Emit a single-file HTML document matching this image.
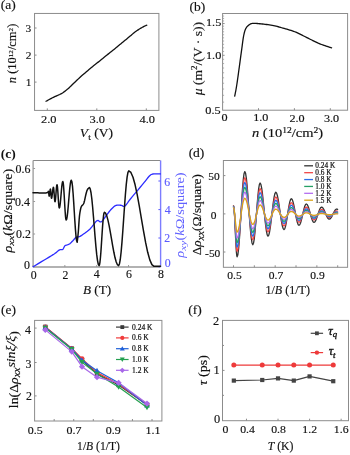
<!DOCTYPE html>
<html><head><meta charset="utf-8"><style>
html,body{margin:0;padding:0;background:#fff;}
body{width:350px;height:455px;overflow:hidden;}
svg{display:block;}
text{font-family:"Liberation Serif",serif;}
</style></head><body>
<svg width="350" height="455" viewBox="0 0 350 455">
<rect width="350" height="455" fill="#fff"/>
<rect class="g" x="34.55" y="13.45" width="124.35000000000001" height="96.95" fill="none" stroke="#8c8c8c" stroke-width="1"/>
<line class="g" x1="34.55" y1="82.1" x2="36.55" y2="82.1" stroke="#8c8c8c" stroke-width="1"/>
<line class="g" x1="34.55" y1="55.1" x2="36.55" y2="55.1" stroke="#8c8c8c" stroke-width="1"/>
<line class="g" x1="34.55" y1="28.0" x2="36.55" y2="28.0" stroke="#8c8c8c" stroke-width="1"/>
<line class="g" x1="47.3" y1="110.4" x2="47.3" y2="108.4" stroke="#8c8c8c" stroke-width="1"/>
<line class="g" x1="96.8" y1="110.4" x2="96.8" y2="108.4" stroke="#8c8c8c" stroke-width="1"/>
<line class="g" x1="146.3" y1="110.4" x2="146.3" y2="108.4" stroke="#8c8c8c" stroke-width="1"/>
<path class="g" d="M46.00,101.30 L46.57,100.99 L47.34,100.56 L48.25,100.05 L49.27,99.49 L50.34,98.91 L51.41,98.33 L52.45,97.78 L53.40,97.30 L54.31,96.86 L55.24,96.44 L56.18,96.03 L57.10,95.63 L57.99,95.25 L58.83,94.88 L59.61,94.53 L60.30,94.20 L60.88,93.90 L61.37,93.64 L61.78,93.41 L62.14,93.18 L62.49,92.95 L62.85,92.71 L63.24,92.43 L63.70,92.10 L64.21,91.73 L64.74,91.35 L65.29,90.94 L65.86,90.51 L66.44,90.06 L67.04,89.57 L67.66,89.05 L68.30,88.50 L68.95,87.91 L69.61,87.29 L70.28,86.64 L70.97,85.96 L71.69,85.25 L72.43,84.52 L73.20,83.77 L74.00,83.00 L74.83,82.22 L75.67,81.41 L76.54,80.59 L77.43,79.74 L78.36,78.87 L79.33,77.97 L80.34,77.05 L81.40,76.10 L82.54,75.10 L83.77,74.03 L85.06,72.93 L86.38,71.81 L87.70,70.69 L89.00,69.60 L90.24,68.56 L91.40,67.60 L92.48,66.71 L93.51,65.87 L94.49,65.08 L95.44,64.32 L96.37,63.58 L97.29,62.85 L98.19,62.13 L99.10,61.40 L99.99,60.68 L100.84,59.99 L101.67,59.31 L102.49,58.64 L103.32,57.97 L104.17,57.28 L105.06,56.56 L106.00,55.80 L107.01,54.99 L108.09,54.12 L109.21,53.22 L110.35,52.31 L111.48,51.41 L112.59,50.52 L113.63,49.68 L114.60,48.90 L115.47,48.20 L116.24,47.57 L116.96,46.98 L117.65,46.41 L118.34,45.85 L119.06,45.25 L119.83,44.61 L120.70,43.90 L121.68,43.10 L122.74,42.22 L123.87,41.29 L125.03,40.34 L126.18,39.39 L127.30,38.46 L128.35,37.59 L129.30,36.80 L130.16,36.08 L130.97,35.39 L131.72,34.74 L132.44,34.12 L133.11,33.55 L133.76,33.00 L134.39,32.48 L135.00,32.00 L135.59,31.56 L136.14,31.16 L136.67,30.79 L137.17,30.46 L137.65,30.15 L138.11,29.86 L138.56,29.58 L139.00,29.30 L139.42,29.03 L139.82,28.78 L140.20,28.55 L140.56,28.33 L140.92,28.12 L141.27,27.91 L141.63,27.71 L142.00,27.50 L142.38,27.28 L142.78,27.06 L143.18,26.85 L143.58,26.63 L143.96,26.43 L144.33,26.23 L144.68,26.06 L145.00,25.90 L145.29,25.76 L145.58,25.65 L145.84,25.54 L146.09,25.45 L146.31,25.37 L146.50,25.30 L146.67,25.25 L146.80,25.20" fill="none" stroke="#111" stroke-width="1.3" stroke-linejoin="round" stroke-linecap="round"/>
<rect class="g" x="222.6" y="13.5" width="125.00000000000003" height="96.7" fill="none" stroke="#8c8c8c" stroke-width="1"/>
<line class="g" x1="222.6" y1="102.13355866037853" x2="224.1" y2="102.13355866037853" stroke="#999" stroke-width="0.8"/>
<line class="g" x1="222.6" y1="95.31723176322498" x2="224.1" y2="95.31723176322498" stroke="#999" stroke-width="0.8"/>
<line class="g" x1="222.6" y1="89.04681885732246" x2="224.1" y2="89.04681885732246" stroke="#999" stroke-width="0.8"/>
<line class="g" x1="222.6" y1="83.24132328465586" x2="224.1" y2="83.24132328465586" stroke="#999" stroke-width="0.8"/>
<line class="g" x1="222.6" y1="77.83653621084122" x2="224.1" y2="77.83653621084122" stroke="#999" stroke-width="0.8"/>
<line class="g" x1="222.6" y1="72.78069555238378" x2="224.1" y2="72.78069555238378" stroke="#999" stroke-width="0.8"/>
<line class="g" x1="222.6" y1="68.03146327249033" x2="224.1" y2="68.03146327249033" stroke="#999" stroke-width="0.8"/>
<line class="g" x1="222.6" y1="63.55376797406621" x2="224.1" y2="63.55376797406621" stroke="#999" stroke-width="0.8"/>
<line class="g" x1="222.6" y1="59.318231572397075" x2="224.1" y2="59.318231572397075" stroke="#999" stroke-width="0.8"/>
<line class="g" x1="222.6" y1="51.477859495497086" x2="224.1" y2="51.477859495497086" stroke="#999" stroke-width="0.8"/>
<line class="g" x1="222.6" y1="47.83355866037853" x2="224.1" y2="47.83355866037853" stroke="#999" stroke-width="0.8"/>
<line class="g" x1="222.6" y1="44.351281338487965" x2="224.1" y2="44.351281338487965" stroke="#999" stroke-width="0.8"/>
<line class="g" x1="222.6" y1="41.01723176322498" x2="224.1" y2="41.01723176322498" stroke="#999" stroke-width="0.8"/>
<line class="g" x1="222.6" y1="37.81930444761622" x2="224.1" y2="37.81930444761622" stroke="#999" stroke-width="0.8"/>
<line class="g" x1="222.6" y1="34.74681885732247" x2="224.1" y2="34.74681885732247" stroke="#999" stroke-width="0.8"/>
<line class="g" x1="222.6" y1="31.790304184907427" x2="224.1" y2="31.790304184907427" stroke="#999" stroke-width="0.8"/>
<line class="g" x1="222.6" y1="28.941323284655862" x2="224.1" y2="28.941323284655862" stroke="#999" stroke-width="0.8"/>
<line class="g" x1="222.6" y1="26.1923275169566" x2="224.1" y2="26.1923275169566" stroke="#999" stroke-width="0.8"/>
<line class="g" x1="222.6" y1="20.96783589837645" x2="224.1" y2="20.96783589837645" stroke="#999" stroke-width="0.8"/>
<line class="g" x1="222.6" y1="18.480695552383764" x2="224.1" y2="18.480695552383764" stroke="#999" stroke-width="0.8"/>
<line class="g" x1="222.6" y1="16.070094871219744" x2="224.1" y2="16.070094871219744" stroke="#999" stroke-width="0.8"/>
<line class="g" x1="222.6" y1="55.3" x2="224.6" y2="55.3" stroke="#8c8c8c" stroke-width="1"/>
<line class="g" x1="222.6" y1="23.53653621084122" x2="224.6" y2="23.53653621084122" stroke="#8c8c8c" stroke-width="1"/>
<line class="g" x1="258.5" y1="110.2" x2="258.5" y2="108.2" stroke="#8c8c8c" stroke-width="1"/>
<line class="g" x1="294.4" y1="110.2" x2="294.4" y2="108.2" stroke="#8c8c8c" stroke-width="1"/>
<line class="g" x1="330.29999999999995" y1="110.2" x2="330.29999999999995" y2="108.2" stroke="#8c8c8c" stroke-width="1"/>
<path class="g" d="M234.70,96.20 L234.84,95.46 L235.03,94.52 L235.25,93.41 L235.50,92.15 L235.77,90.76 L236.05,89.25 L236.33,87.66 L236.60,86.00 L236.87,84.24 L237.16,82.35 L237.45,80.35 L237.74,78.25 L238.05,76.07 L238.36,73.82 L238.68,71.53 L239.00,69.20 L239.34,66.76 L239.69,64.14 L240.06,61.42 L240.43,58.67 L240.80,55.94 L241.15,53.31 L241.49,50.84 L241.80,48.60 L242.08,46.56 L242.33,44.66 L242.57,42.87 L242.79,41.21 L243.01,39.64 L243.23,38.18 L243.45,36.80 L243.70,35.50 L243.95,34.30 L244.20,33.22 L244.45,32.25 L244.71,31.36 L244.97,30.55 L245.26,29.80 L245.57,29.08 L245.90,28.40 L246.27,27.76 L246.66,27.18 L247.07,26.66 L247.51,26.19 L247.95,25.76 L248.40,25.38 L248.85,25.02 L249.30,24.70 L249.71,24.41 L250.07,24.16 L250.42,23.95 L250.78,23.78 L251.18,23.64 L251.67,23.54 L252.26,23.46 L253.00,23.40 L253.89,23.38 L254.91,23.39 L256.03,23.44 L257.23,23.52 L258.49,23.62 L259.79,23.74 L261.10,23.86 L262.40,24.00 L263.73,24.15 L265.12,24.31 L266.55,24.49 L268.01,24.68 L269.46,24.89 L270.89,25.11 L272.28,25.35 L273.60,25.60 L274.84,25.86 L276.03,26.15 L277.17,26.44 L278.28,26.75 L279.39,27.07 L280.52,27.40 L281.68,27.75 L282.90,28.10 L284.19,28.46 L285.53,28.83 L286.91,29.22 L288.30,29.61 L289.69,30.02 L291.05,30.43 L292.36,30.86 L293.60,31.30 L294.77,31.75 L295.88,32.22 L296.94,32.69 L297.98,33.18 L299.00,33.68 L300.02,34.18 L301.05,34.69 L302.10,35.20 L303.17,35.72 L304.24,36.25 L305.32,36.79 L306.39,37.34 L307.47,37.88 L308.55,38.43 L309.62,38.97 L310.70,39.50 L311.77,40.03 L312.85,40.56 L313.93,41.10 L315.00,41.62 L316.07,42.14 L317.15,42.65 L318.22,43.14 L319.30,43.60 L320.41,44.05 L321.56,44.49 L322.74,44.92 L323.91,45.33 L325.03,45.72 L326.09,46.08 L327.06,46.41 L327.90,46.70 L328.62,46.95 L329.26,47.16 L329.81,47.34 L330.29,47.49 L330.70,47.62 L331.05,47.73 L331.35,47.82 L331.60,47.90" fill="none" stroke="#111" stroke-width="1.3" stroke-linejoin="round" stroke-linecap="round"/>
<line class="g" x1="33.1" y1="160.5" x2="160.4" y2="160.5" stroke="#888" stroke-width="1"/>
<line class="g" x1="33.1" y1="160.5" x2="33.1" y2="267.0" stroke="#999" stroke-width="1.3"/>
<line class="g" x1="33.1" y1="267.0" x2="160.4" y2="267.0" stroke="#999" stroke-width="1.3"/>
<line class="g" x1="160.6" y1="160.5" x2="160.6" y2="267.0" stroke="#7c7cff" stroke-width="1.4"/>
<line class="g" x1="33.1" y1="266.8" x2="35.1" y2="266.8" stroke="#999" stroke-width="1"/>
<line class="g" x1="33.1" y1="234.0" x2="35.1" y2="234.0" stroke="#999" stroke-width="1"/>
<line class="g" x1="33.1" y1="201.5" x2="35.1" y2="201.5" stroke="#999" stroke-width="1"/>
<line class="g" x1="33.1" y1="168.5" x2="35.1" y2="168.5" stroke="#999" stroke-width="1"/>
<line class="g" x1="33.0" y1="267.0" x2="33.0" y2="265.0" stroke="#999" stroke-width="1"/>
<line class="g" x1="64.85" y1="267.0" x2="64.85" y2="265.0" stroke="#999" stroke-width="1"/>
<line class="g" x1="96.7" y1="267.0" x2="96.7" y2="265.0" stroke="#999" stroke-width="1"/>
<line class="g" x1="128.55" y1="267.0" x2="128.55" y2="265.0" stroke="#999" stroke-width="1"/>
<line class="g" x1="160.4" y1="267.0" x2="160.4" y2="265.0" stroke="#999" stroke-width="1"/>
<line class="g" x1="160.4" y1="266.8" x2="158.4" y2="266.8" stroke="#5a5aff" stroke-width="1"/>
<line class="g" x1="160.4" y1="238.0" x2="158.4" y2="238.0" stroke="#5a5aff" stroke-width="1"/>
<line class="g" x1="160.4" y1="209.6" x2="158.4" y2="209.6" stroke="#5a5aff" stroke-width="1"/>
<line class="g" x1="160.4" y1="181.0" x2="158.4" y2="181.0" stroke="#5a5aff" stroke-width="1"/>
<path class="g" d="M33.10,266.70 L35.21,265.44 L38.26,263.62 L41.53,261.66 L44.30,260.00 L46.43,258.72 L48.28,257.61 L49.92,256.61 L51.40,255.70 L52.70,254.89 L53.81,254.19 L54.79,253.54 L55.70,252.90 L56.54,252.21 L57.29,251.53 L57.96,250.90 L58.60,250.40 L59.18,250.07 L59.69,249.86 L60.19,249.72 L60.70,249.60 L61.25,249.57 L61.80,249.62 L62.35,249.60 L62.90,249.30 L63.41,248.57 L63.91,247.54 L64.42,246.49 L65.00,245.70 L65.69,245.27 L66.45,245.04 L67.21,244.90 L67.90,244.70 L68.46,244.47 L68.95,244.27 L69.44,244.00 L70.00,243.60 L70.65,243.02 L71.36,242.31 L72.11,241.52 L72.90,240.70 L73.73,239.78 L74.61,238.76 L75.50,237.81 L76.40,237.10 L77.15,236.87 L77.81,236.97 L78.66,236.96 L80.00,236.40 L82.08,235.09 L84.67,233.29 L87.39,231.25 L89.80,229.20 L91.85,226.92 L93.75,224.37 L95.47,222.09 L97.00,220.60 L98.23,220.43 L99.22,221.18 L100.15,221.95 L101.25,221.90 L102.62,220.61 L104.14,218.59 L105.65,216.39 L107.00,214.50 L108.12,213.05 L109.11,211.76 L110.04,210.60 L111.00,209.50 L112.02,208.44 L113.06,207.44 L114.07,206.57 L115.00,205.90 L115.81,205.48 L116.54,205.26 L117.25,205.16 L118.00,205.10 L118.83,205.08 L119.71,205.14 L120.58,205.25 L121.40,205.40 L122.16,205.69 L122.89,206.09 L123.60,206.40 L124.30,206.40 L124.98,206.00 L125.64,205.32 L126.31,204.48 L127.00,203.60 L127.56,202.85 L128.04,202.12 L128.75,201.11 L130.00,199.50 L132.11,196.93 L134.84,193.66 L137.65,190.31 L140.00,187.50 L141.75,185.38 L143.19,183.64 L144.41,182.15 L145.50,180.80 L146.44,179.61 L147.20,178.62 L147.86,177.77 L148.50,177.00 L149.13,176.30 L149.70,175.71 L150.25,175.21 L150.80,174.80 L151.34,174.49 L151.86,174.27 L152.40,174.12 L153.00,174.00 L153.66,173.92 L154.36,173.90 L155.13,173.90 L156.00,173.90 L157.10,173.89 L158.39,173.89 L159.58,173.90 L160.40,173.90" fill="none" stroke="#2b2bff" stroke-width="1.3" stroke-linejoin="round" stroke-linecap="round"/>
<path class="g" d="M33.00,192.80 L34.23,192.80 L35.46,192.82 L36.69,192.84 L37.92,192.87 L39.15,192.90 L40.38,192.93 L41.61,192.96 L42.84,192.98 L44.07,193.00 L45.30,193.00 L45.53,192.99 L45.76,192.96 L45.99,192.92 L46.22,192.86 L46.45,192.80 L46.68,192.74 L46.91,192.68 L47.14,192.64 L47.37,192.61 L47.60,192.60 L47.68,192.57 L47.76,192.48 L47.84,192.33 L47.92,192.15 L48.00,191.95 L48.08,191.75 L48.16,191.57 L48.24,191.42 L48.32,191.33 L48.40,191.30 L48.48,191.42 L48.56,191.76 L48.64,192.29 L48.72,192.96 L48.80,193.70 L48.88,194.44 L48.96,195.11 L49.04,195.64 L49.12,195.98 L49.20,196.10 L49.32,195.93 L49.44,195.43 L49.56,194.66 L49.68,193.68 L49.80,192.60 L49.92,191.52 L50.04,190.54 L50.16,189.77 L50.28,189.27 L50.40,189.10 L50.51,189.33 L50.62,189.98 L50.73,191.00 L50.84,192.28 L50.95,193.70 L51.06,195.12 L51.17,196.40 L51.28,197.42 L51.39,198.07 L51.50,198.30 L51.69,198.03 L51.88,197.25 L52.07,196.03 L52.26,194.50 L52.45,192.80 L52.64,191.10 L52.83,189.57 L53.02,188.35 L53.21,187.57 L53.40,187.30 L53.56,187.65 L53.72,188.68 L53.88,190.29 L54.04,192.31 L54.20,194.55 L54.36,196.79 L54.52,198.81 L54.68,200.42 L54.84,201.45 L55.00,201.80 L55.20,201.38 L55.40,200.17 L55.60,198.28 L55.80,195.89 L56.00,193.25 L56.20,190.61 L56.40,188.22 L56.60,186.33 L56.80,185.12 L57.00,184.70 L57.23,185.27 L57.46,186.92 L57.69,189.50 L57.92,192.75 L58.15,196.35 L58.38,199.95 L58.61,203.20 L58.84,205.78 L59.07,207.43 L59.30,208.00 L59.65,207.35 L60.00,205.47 L60.35,202.54 L60.70,198.84 L61.05,194.75 L61.40,190.66 L61.75,186.96 L62.10,184.03 L62.45,182.15 L62.80,181.50 L63.14,182.44 L63.48,185.18 L63.82,189.44 L64.16,194.80 L64.50,200.75 L64.84,206.70 L65.18,212.06 L65.52,216.32 L65.86,219.06 L66.20,220.00 L66.71,219.03 L67.22,216.20 L67.73,211.80 L68.24,206.25 L68.75,200.10 L69.26,193.95 L69.77,188.40 L70.28,184.00 L70.79,181.17 L71.30,180.20 L71.89,181.72 L72.48,186.12 L73.07,192.98 L73.66,201.62 L74.25,211.20 L74.84,220.78 L75.43,229.42 L76.02,236.28 L76.61,240.68 L77.20,242.20 L77.40,240.49 L77.68,238.06 L78.00,235.15 L78.30,232.00 L78.58,228.34 L78.85,224.16 L79.13,220.07 L79.40,216.70 L79.68,214.24 L79.96,212.34 L80.23,210.83 L80.50,209.50 L80.75,208.39 L80.97,207.56 L81.22,206.91 L81.50,206.30 L81.85,205.77 L82.24,205.35 L82.63,204.96 L83.00,204.50 L83.31,204.08 L83.58,203.69 L83.86,203.11 L84.20,202.10 L84.61,200.39 L85.08,198.18 L85.56,195.91 L86.00,194.00 L86.39,192.56 L86.74,191.37 L87.10,190.36 L87.50,189.50 L87.99,188.78 L88.54,188.22 L89.05,187.80 L89.40,187.50 L90.21,188.83 L91.02,192.73 L91.83,198.94 L92.63,207.03 L93.44,216.44 L94.25,226.55 L95.06,236.66 L95.87,246.08 L96.67,254.16 L97.48,260.37 L98.29,264.27 L99.10,265.60 L99.54,264.69 L99.98,262.03 L100.42,257.79 L100.87,252.28 L101.31,245.85 L101.75,238.95 L102.19,232.05 L102.63,225.63 L103.08,220.11 L103.52,215.87 L103.96,213.21 L104.40,212.30 L105.58,213.21 L106.77,215.87 L107.95,220.11 L109.13,225.62 L110.32,232.05 L111.50,238.95 L112.68,245.85 L113.87,252.28 L115.05,257.79 L116.23,262.03 L117.42,264.69 L118.60,265.60 L119.45,263.98 L120.30,259.25 L121.15,251.72 L122.00,241.90 L122.85,230.47 L123.70,218.20 L124.55,205.93 L125.40,194.50 L126.25,184.68 L127.10,177.15 L127.95,172.42 L128.80,170.80 L130.90,172.43 L133.00,177.20 L135.10,184.79 L137.20,194.68 L139.30,206.19 L141.40,218.55 L143.50,230.91 L145.60,242.43 L147.70,252.31 L149.80,259.90 L151.90,264.67 L154.00,266.30 L160.40,266.30" fill="none" stroke="#111" stroke-width="1.5" stroke-linejoin="round" stroke-linecap="round"/>
<rect class="g" x="223.4" y="160.5" width="124.20000000000002" height="106.80000000000001" fill="none" stroke="#8c8c8c" stroke-width="1"/>
<line class="g" x1="223.4" y1="175.6" x2="225.4" y2="175.6" stroke="#8c8c8c" stroke-width="1"/>
<line class="g" x1="223.4" y1="213.9" x2="225.4" y2="213.9" stroke="#8c8c8c" stroke-width="1"/>
<line class="g" x1="223.4" y1="252.0" x2="225.4" y2="252.0" stroke="#8c8c8c" stroke-width="1"/>
<line class="g" x1="233.5" y1="267.3" x2="233.5" y2="265.3" stroke="#8c8c8c" stroke-width="1"/>
<line class="g" x1="254.34" y1="267.3" x2="254.34" y2="265.3" stroke="#8c8c8c" stroke-width="1"/>
<line class="g" x1="275.18" y1="267.3" x2="275.18" y2="265.3" stroke="#8c8c8c" stroke-width="1"/>
<line class="g" x1="296.02" y1="267.3" x2="296.02" y2="265.3" stroke="#8c8c8c" stroke-width="1"/>
<line class="g" x1="316.86" y1="267.3" x2="316.86" y2="265.3" stroke="#8c8c8c" stroke-width="1"/>
<line class="g" x1="337.7" y1="267.3" x2="337.7" y2="265.3" stroke="#8c8c8c" stroke-width="1"/>
<path class="g" d="M233.50,205.80 L233.86,207.05 L234.22,210.67 L234.58,216.31 L234.94,223.42 L235.30,231.30 L235.66,239.18 L236.02,246.29 L236.38,251.93 L236.74,255.55 L237.10,256.80 L237.87,254.72 L238.64,248.66 L239.41,239.24 L240.18,227.36 L240.95,214.20 L241.72,201.04 L242.49,189.16 L243.26,179.74 L244.03,173.68 L244.80,171.60 L245.60,173.39 L246.40,178.58 L247.20,186.67 L248.00,196.86 L248.80,208.15 L249.60,219.44 L250.40,229.63 L251.20,237.72 L252.00,242.91 L252.80,244.70 L253.53,243.19 L254.26,238.81 L254.99,231.98 L255.72,223.38 L256.45,213.85 L257.18,204.32 L257.91,195.72 L258.64,188.89 L259.37,184.51 L260.10,183.00 L260.89,184.30 L261.68,188.08 L262.47,193.96 L263.26,201.38 L264.05,209.60 L264.84,217.82 L265.63,225.24 L266.42,231.12 L267.21,234.90 L268.00,236.20 L268.78,235.12 L269.56,232.00 L270.34,227.13 L271.12,221.00 L271.90,214.20 L272.68,207.40 L273.46,201.27 L274.24,196.40 L275.02,193.28 L275.80,192.20 L276.62,193.12 L277.44,195.77 L278.26,199.91 L279.08,205.12 L279.90,210.90 L280.72,216.68 L281.54,221.89 L282.36,226.03 L283.18,228.68 L284.00,229.60 L284.73,228.84 L285.46,226.65 L286.19,223.23 L286.92,218.92 L287.65,214.15 L288.38,209.38 L289.11,205.07 L289.84,201.65 L290.57,199.46 L291.30,198.70 L292.07,199.35 L292.84,201.24 L293.61,204.18 L294.38,207.89 L295.15,212.00 L295.92,216.11 L296.69,219.82 L297.46,222.76 L298.23,224.65 L299.00,225.30 L299.73,224.78 L300.46,223.27 L301.19,220.91 L301.92,217.94 L302.65,214.65 L303.38,211.36 L304.11,208.39 L304.84,206.03 L305.57,204.52 L306.30,204.00 L307.07,204.45 L307.84,205.76 L308.61,207.79 L309.38,210.36 L310.15,213.20 L310.92,216.04 L311.69,218.61 L312.46,220.64 L313.23,221.95 L314.00,222.40 L314.76,222.03 L315.52,220.94 L316.28,219.25 L317.04,217.11 L317.80,214.75 L318.56,212.39 L319.32,210.25 L320.08,208.56 L320.84,207.47 L321.60,207.10 L322.36,207.40 L323.12,208.26 L323.88,209.59 L324.64,211.28 L325.40,213.15 L326.16,215.02 L326.92,216.71 L327.68,218.04 L328.44,218.90 L329.20,219.20 L329.96,218.95 L330.72,218.23 L331.48,217.10 L332.24,215.68 L333.00,214.10 L333.76,212.52 L334.52,211.10 L335.28,209.97 L336.04,209.25 L336.80,209.00 L336.88,209.01 L336.96,209.03 L337.04,209.06 L337.12,209.10 L337.20,209.15 L337.28,209.20 L337.36,209.24 L337.44,209.27 L337.52,209.29 L337.60,209.30" fill="none" stroke="#333333" stroke-width="1.3" stroke-linejoin="round" stroke-linecap="round"/>
<path class="g" d="M233.50,206.20 L233.86,207.30 L234.22,210.51 L234.58,215.51 L234.94,221.80 L235.30,228.78 L235.66,235.75 L236.02,242.05 L236.38,247.04 L236.74,250.25 L237.10,251.35 L237.87,249.55 L238.64,244.33 L239.41,236.19 L240.18,225.94 L240.95,214.57 L241.72,203.21 L242.49,192.95 L243.26,184.82 L244.03,179.59 L244.80,177.79 L245.60,179.31 L246.40,183.71 L247.20,190.56 L248.00,199.19 L248.80,208.77 L249.60,218.34 L250.40,226.97 L251.20,233.83 L252.00,238.23 L252.80,239.74 L253.53,238.49 L254.26,234.86 L254.99,229.21 L255.72,222.09 L256.45,214.19 L257.18,206.29 L257.91,199.17 L258.64,193.52 L259.37,189.89 L260.10,188.64 L260.89,189.70 L261.68,192.76 L262.47,197.54 L263.26,203.56 L264.05,210.24 L264.84,216.91 L265.63,222.94 L266.42,227.72 L267.21,230.78 L268.00,231.84 L268.78,230.99 L269.56,228.52 L270.34,224.66 L271.12,219.81 L271.90,214.43 L272.68,209.05 L273.46,204.20 L274.24,200.34 L275.02,197.87 L275.80,197.02 L276.62,197.73 L277.44,199.78 L278.26,202.98 L279.08,207.02 L279.90,211.49 L280.72,215.96 L281.54,219.99 L282.36,223.19 L283.18,225.24 L284.00,225.95 L284.73,225.38 L285.46,223.73 L286.19,221.16 L286.92,217.92 L287.65,214.33 L288.38,210.74 L289.11,207.50 L289.84,204.93 L290.57,203.27 L291.30,202.71 L292.07,203.18 L292.84,204.57 L293.61,206.74 L294.38,209.46 L295.15,212.48 L295.92,215.50 L296.69,218.23 L297.46,220.39 L298.23,221.78 L299.00,222.26 L299.73,221.89 L300.46,220.81 L301.19,219.12 L301.92,217.00 L302.65,214.65 L303.38,212.30 L304.11,210.17 L304.84,208.49 L305.57,207.41 L306.30,207.04 L307.07,207.35 L307.84,208.26 L308.61,209.68 L309.38,211.46 L310.15,213.44 L310.92,215.43 L311.69,217.21 L312.46,218.63 L313.23,219.54 L314.00,219.85 L314.76,219.60 L315.52,218.86 L316.28,217.72 L317.04,216.28 L317.80,214.68 L318.56,213.08 L319.32,211.64 L320.08,210.49 L320.84,209.76 L321.60,209.50 L322.36,209.70 L323.12,210.26 L323.88,211.15 L324.64,212.26 L325.40,213.49 L326.16,214.72 L326.92,215.83 L327.68,216.71 L328.44,217.28 L329.20,217.47 L329.96,217.31 L330.72,216.85 L331.48,216.13 L332.24,215.23 L333.00,214.22 L333.76,213.22 L334.52,212.31 L335.28,211.59 L336.04,211.13 L336.80,210.97 L336.88,210.98 L336.96,210.99 L337.04,211.01 L337.12,211.04 L337.20,211.07 L337.28,211.10 L337.36,211.13 L337.44,211.15 L337.52,211.17 L337.60,211.17" fill="none" stroke="#f04848" stroke-width="1.3" stroke-linejoin="round" stroke-linecap="round"/>
<path class="g" d="M233.50,206.60 L233.86,207.59 L234.22,210.47 L234.58,214.95 L234.94,220.60 L235.30,226.87 L235.66,233.13 L236.02,238.78 L236.38,243.26 L236.74,246.14 L237.10,247.13 L237.87,245.55 L238.64,240.96 L239.41,233.80 L240.18,224.79 L240.95,214.80 L241.72,204.81 L242.49,195.80 L243.26,188.65 L244.03,184.06 L244.80,182.47 L245.60,183.79 L246.40,187.59 L247.20,193.52 L248.00,201.00 L248.80,209.28 L249.60,217.57 L250.40,225.04 L251.20,230.97 L252.00,234.78 L252.80,236.09 L253.53,235.03 L254.26,231.95 L254.99,227.14 L255.72,221.09 L256.45,214.39 L257.18,207.68 L257.91,201.63 L258.64,196.83 L259.37,193.75 L260.10,192.69 L260.89,193.57 L261.68,196.14 L262.47,200.13 L263.26,205.16 L264.05,210.74 L264.84,216.32 L265.63,221.36 L266.42,225.35 L267.21,227.91 L268.00,228.80 L268.78,228.10 L269.56,226.08 L270.34,222.92 L271.12,218.95 L271.90,214.54 L272.68,210.14 L273.46,206.16 L274.24,203.01 L275.02,200.99 L275.80,200.29 L276.62,200.86 L277.44,202.51 L278.26,205.08 L279.08,208.33 L279.90,211.92 L280.72,215.52 L281.54,218.76 L282.36,221.33 L283.18,222.98 L284.00,223.55 L284.73,223.11 L285.46,221.81 L286.19,219.78 L286.92,217.23 L287.65,214.41 L288.38,211.58 L289.11,209.03 L289.84,207.01 L290.57,205.71 L291.30,205.26 L292.07,205.63 L292.84,206.71 L293.61,208.38 L294.38,210.49 L295.15,212.82 L295.92,215.16 L296.69,217.26 L297.46,218.94 L298.23,220.01 L299.00,220.38 L299.73,220.10 L300.46,219.28 L301.19,218.01 L301.92,216.40 L302.65,214.62 L303.38,212.84 L304.11,211.24 L304.84,209.96 L305.57,209.14 L306.30,208.86 L307.07,209.09 L307.84,209.77 L308.61,210.82 L309.38,212.15 L310.15,213.62 L310.92,215.09 L311.69,216.41 L312.46,217.46 L313.23,218.14 L314.00,218.37 L314.76,218.19 L315.52,217.65 L316.28,216.82 L317.04,215.77 L317.80,214.61 L318.56,213.45 L319.32,212.41 L320.08,211.57 L320.84,211.04 L321.60,210.86 L322.36,211.00 L323.12,211.40 L323.88,212.03 L324.64,212.82 L325.40,213.69 L326.16,214.57 L326.92,215.36 L327.68,215.99 L328.44,216.39 L329.20,216.53 L329.96,216.42 L330.72,216.10 L331.48,215.60 L332.24,214.97 L333.00,214.27 L333.76,213.57 L334.52,212.94 L335.28,212.44 L336.04,212.12 L336.80,212.01 L336.88,212.02 L336.96,212.03 L337.04,212.04 L337.12,212.06 L337.20,212.08 L337.28,212.10 L337.36,212.12 L337.44,212.14 L337.52,212.15 L337.60,212.15" fill="none" stroke="#2a6ee8" stroke-width="1.3" stroke-linejoin="round" stroke-linecap="round"/>
<path class="g" d="M233.50,207.00 L233.86,207.87 L234.22,210.40 L234.58,214.34 L234.94,219.30 L235.30,224.81 L235.66,230.31 L236.02,235.27 L236.38,239.21 L236.74,241.74 L237.10,242.61 L237.87,241.26 L238.64,237.34 L239.41,231.23 L240.18,223.53 L240.95,214.99 L241.72,206.46 L242.49,198.76 L243.26,192.65 L244.03,188.72 L244.80,187.37 L245.60,188.47 L246.40,191.67 L247.20,196.64 L248.00,202.92 L248.80,209.87 L249.60,216.82 L250.40,223.09 L251.20,228.07 L252.00,231.26 L252.80,232.36 L253.53,231.49 L254.26,228.96 L254.99,225.02 L255.72,220.05 L256.45,214.54 L257.18,209.04 L257.91,204.07 L258.64,200.13 L259.37,197.60 L260.10,196.72 L260.89,197.44 L261.68,199.51 L262.47,202.73 L263.26,206.78 L264.05,211.28 L264.84,215.78 L265.63,219.84 L266.42,223.06 L267.21,225.13 L268.00,225.84 L268.78,225.29 L269.56,223.70 L270.34,221.21 L271.12,218.08 L271.90,214.61 L272.68,211.14 L273.46,208.01 L274.24,205.53 L275.02,203.93 L275.80,203.38 L276.62,203.82 L277.44,205.10 L278.26,207.09 L279.08,209.59 L279.90,212.36 L280.72,215.14 L281.54,217.64 L282.36,219.63 L283.18,220.91 L284.00,221.35 L284.73,221.01 L285.46,220.03 L286.19,218.50 L286.92,216.58 L287.65,214.45 L288.38,212.32 L289.11,210.40 L289.84,208.88 L290.57,207.90 L291.30,207.56 L292.07,207.84 L292.84,208.63 L293.61,209.86 L294.38,211.42 L295.15,213.15 L295.92,214.87 L296.69,216.43 L297.46,217.67 L298.23,218.46 L299.00,218.73 L299.73,218.53 L300.46,217.94 L301.19,217.02 L301.92,215.86 L302.65,214.58 L303.38,213.29 L304.11,212.13 L304.84,211.21 L305.57,210.62 L306.30,210.42 L307.07,210.58 L307.84,211.06 L308.61,211.80 L309.38,212.74 L310.15,213.78 L310.92,214.82 L311.69,215.76 L312.46,216.50 L313.23,216.98 L314.00,217.14 L314.76,217.01 L315.52,216.65 L316.28,216.07 L317.04,215.35 L317.80,214.55 L318.56,213.74 L319.32,213.02 L320.08,212.45 L320.84,212.08 L321.60,211.95 L322.36,212.04 L323.12,212.32 L323.88,212.74 L324.64,213.28 L325.40,213.87 L326.16,214.46 L326.92,214.99 L327.68,215.42 L328.44,215.69 L329.20,215.79 L329.96,215.71 L330.72,215.50 L331.48,215.17 L332.24,214.76 L333.00,214.30 L333.76,213.84 L334.52,213.42 L335.28,213.09 L336.04,212.88 L336.80,212.81 L336.88,212.81 L336.96,212.82 L337.04,212.83 L337.12,212.84 L337.20,212.86 L337.28,212.87 L337.36,212.88 L337.44,212.90 L337.52,212.90 L337.60,212.90" fill="none" stroke="#25a065" stroke-width="1.3" stroke-linejoin="round" stroke-linecap="round"/>
<path class="g" d="M233.50,207.40 L233.86,208.15 L234.22,210.34 L234.58,213.74 L234.94,218.02 L235.30,222.78 L235.66,227.53 L236.02,231.81 L236.38,235.22 L236.74,237.40 L237.10,238.15 L237.87,237.03 L238.64,233.75 L239.41,228.66 L240.18,222.24 L240.95,215.12 L241.72,208.00 L242.49,201.58 L243.26,196.48 L244.03,193.21 L244.80,192.08 L245.60,192.98 L246.40,195.59 L247.20,199.66 L248.00,204.79 L248.80,210.48 L249.60,216.16 L250.40,221.29 L251.20,225.36 L252.00,227.98 L252.80,228.88 L253.53,228.18 L254.26,226.16 L254.99,223.01 L255.72,219.04 L256.45,214.64 L257.18,210.24 L257.91,206.28 L258.64,203.13 L259.37,201.10 L260.10,200.41 L260.89,200.97 L261.68,202.59 L262.47,205.11 L263.26,208.29 L264.05,211.81 L264.84,215.34 L265.63,218.52 L266.42,221.04 L267.21,222.66 L268.00,223.22 L268.78,222.80 L269.56,221.58 L270.34,219.68 L271.12,217.29 L271.90,214.64 L272.68,211.99 L273.46,209.59 L274.24,207.70 L275.02,206.48 L275.80,206.06 L276.62,206.39 L277.44,207.34 L278.26,208.83 L279.08,210.70 L279.90,212.77 L280.72,214.85 L281.54,216.72 L282.36,218.21 L283.18,219.16 L284.00,219.49 L284.73,219.25 L285.46,218.53 L286.19,217.42 L286.92,216.02 L287.65,214.47 L288.38,212.91 L289.11,211.51 L289.84,210.40 L290.57,209.69 L291.30,209.44 L292.07,209.64 L292.84,210.20 L293.61,211.09 L294.38,212.20 L295.15,213.43 L295.92,214.67 L296.69,215.78 L297.46,216.66 L298.23,217.23 L299.00,217.42 L299.73,217.28 L300.46,216.87 L301.19,216.23 L301.92,215.42 L302.65,214.52 L303.38,213.63 L304.11,212.82 L304.84,212.18 L305.57,211.77 L306.30,211.62 L307.07,211.74 L307.84,212.06 L308.61,212.57 L309.38,213.21 L310.15,213.92 L310.92,214.63 L311.69,215.27 L312.46,215.77 L313.23,216.10 L314.00,216.21 L314.76,216.13 L315.52,215.88 L316.28,215.50 L317.04,215.02 L317.80,214.48 L318.56,213.95 L319.32,213.47 L320.08,213.09 L320.84,212.84 L321.60,212.76 L322.36,212.82 L323.12,212.99 L323.88,213.27 L324.64,213.62 L325.40,214.00 L326.16,214.39 L326.92,214.74 L327.68,215.02 L328.44,215.19 L329.20,215.25 L329.96,215.21 L330.72,215.07 L331.48,214.86 L332.24,214.60 L333.00,214.31 L333.76,214.02 L334.52,213.75 L335.28,213.54 L336.04,213.41 L336.80,213.36 L336.88,213.37 L336.96,213.37 L337.04,213.38 L337.12,213.39 L337.20,213.40 L337.28,213.41 L337.36,213.41 L337.44,213.42 L337.52,213.43 L337.60,213.43" fill="none" stroke="#b46ef0" stroke-width="1.3" stroke-linejoin="round" stroke-linecap="round"/>
<path class="g" d="M233.50,207.80 L233.86,208.39 L234.22,210.12 L234.58,212.81 L234.94,216.20 L235.30,219.95 L235.66,223.71 L236.02,227.09 L236.38,229.78 L236.74,231.51 L237.10,232.10 L237.87,231.27 L238.64,228.87 L239.41,225.13 L240.18,220.41 L240.95,215.18 L241.72,209.95 L242.49,205.24 L243.26,201.49 L244.03,199.09 L244.80,198.26 L245.60,198.90 L246.40,200.76 L247.20,203.66 L248.00,207.31 L248.80,211.36 L249.60,215.41 L250.40,219.06 L251.20,221.95 L252.00,223.81 L252.80,224.46 L253.53,223.98 L254.26,222.59 L254.99,220.43 L255.72,217.71 L256.45,214.69 L257.18,211.68 L257.91,208.96 L258.64,206.80 L259.37,205.41 L260.10,204.93 L260.89,205.30 L261.68,206.38 L262.47,208.06 L263.26,210.17 L264.05,212.52 L264.84,214.86 L265.63,216.98 L266.42,218.65 L267.21,219.73 L268.00,220.10 L268.78,219.83 L269.56,219.05 L270.34,217.84 L271.12,216.31 L271.90,214.61 L272.68,212.92 L273.46,211.39 L274.24,210.17 L275.02,209.39 L275.80,209.12 L276.62,209.33 L277.44,209.92 L278.26,210.84 L279.08,212.00 L279.90,213.28 L280.72,214.57 L281.54,215.73 L282.36,216.65 L283.18,217.24 L284.00,217.44 L284.73,217.29 L285.46,216.87 L286.19,216.21 L286.92,215.37 L287.65,214.45 L288.38,213.53 L289.11,212.69 L289.84,212.03 L290.57,211.61 L291.30,211.46 L292.07,211.57 L292.84,211.90 L293.61,212.41 L294.38,213.05 L295.15,213.76 L295.92,214.47 L296.69,215.11 L297.46,215.62 L298.23,215.95 L299.00,216.06 L299.73,215.98 L300.46,215.75 L301.19,215.40 L301.92,214.95 L302.65,214.45 L303.38,213.95 L304.11,213.50 L304.84,213.15 L305.57,212.92 L306.30,212.84 L307.07,212.90 L307.84,213.08 L308.61,213.35 L309.38,213.69 L310.15,214.07 L310.92,214.45 L311.69,214.80 L312.46,215.07 L313.23,215.25 L314.00,215.31 L314.76,215.26 L315.52,215.14 L316.28,214.94 L317.04,214.69 L317.80,214.41 L318.56,214.13 L319.32,213.88 L320.08,213.69 L320.84,213.56 L321.60,213.52 L322.36,213.55 L323.12,213.63 L323.88,213.77 L324.64,213.95 L325.40,214.14 L326.16,214.34 L326.92,214.51 L327.68,214.65 L328.44,214.74 L329.20,214.77 L329.96,214.75 L330.72,214.68 L331.48,214.58 L332.24,214.45 L333.00,214.31 L333.76,214.17 L334.52,214.04 L335.28,213.94 L336.04,213.88 L336.80,213.86 L336.88,213.86 L336.96,213.86 L337.04,213.86 L337.12,213.87 L337.20,213.87 L337.28,213.88 L337.36,213.88 L337.44,213.89 L337.52,213.89 L337.60,213.89" fill="none" stroke="#d8a318" stroke-width="1.3" stroke-linejoin="round" stroke-linecap="round"/>
<line class="g" x1="304.2" y1="165.8" x2="313" y2="165.8" stroke="#333333" stroke-width="1.3"/>
<line class="g" x1="304.2" y1="172.68" x2="313" y2="172.68" stroke="#f04848" stroke-width="1.3"/>
<line class="g" x1="304.2" y1="179.56" x2="313" y2="179.56" stroke="#2a6ee8" stroke-width="1.3"/>
<line class="g" x1="304.2" y1="186.44" x2="313" y2="186.44" stroke="#25a065" stroke-width="1.3"/>
<line class="g" x1="304.2" y1="193.32000000000002" x2="313" y2="193.32000000000002" stroke="#b46ef0" stroke-width="1.3"/>
<line class="g" x1="304.2" y1="200.20000000000002" x2="313" y2="200.20000000000002" stroke="#d8a318" stroke-width="1.3"/>
<rect class="g" x="34.6" y="320.4" width="127.30000000000001" height="100.60000000000002" fill="none" stroke="#8c8c8c" stroke-width="1"/>
<line class="g" x1="34.6" y1="328.1" x2="36.6" y2="328.1" stroke="#8c8c8c" stroke-width="1"/>
<line class="g" x1="34.6" y1="362.5" x2="36.6" y2="362.5" stroke="#8c8c8c" stroke-width="1"/>
<line class="g" x1="34.6" y1="395.9" x2="36.6" y2="395.9" stroke="#8c8c8c" stroke-width="1"/>
<line class="g" x1="54.169999999999995" y1="421.0" x2="54.169999999999995" y2="419.0" stroke="#8c8c8c" stroke-width="1"/>
<line class="g" x1="73.73999999999998" y1="421.0" x2="73.73999999999998" y2="419.0" stroke="#8c8c8c" stroke-width="1"/>
<line class="g" x1="93.31" y1="421.0" x2="93.31" y2="419.0" stroke="#8c8c8c" stroke-width="1"/>
<line class="g" x1="112.88" y1="421.0" x2="112.88" y2="419.0" stroke="#8c8c8c" stroke-width="1"/>
<line class="g" x1="132.45" y1="421.0" x2="132.45" y2="419.0" stroke="#8c8c8c" stroke-width="1"/>
<line class="g" x1="152.02" y1="421.0" x2="152.02" y2="419.0" stroke="#8c8c8c" stroke-width="1"/>
<path class="g" d="M45.30,326.90 L71.70,348.60 L82.00,360.00 L97.00,373.90 L118.60,385.00 L147.00,404.80" fill="none" stroke="#3a3a3a" stroke-width="1.2" stroke-linejoin="round" stroke-linecap="round"/>
<rect class="g" x="43.099999999999994" y="324.7" width="4.4" height="4.4" fill="#3a3a3a"/>
<rect class="g" x="69.5" y="346.40000000000003" width="4.4" height="4.4" fill="#3a3a3a"/>
<rect class="g" x="79.8" y="357.8" width="4.4" height="4.4" fill="#3a3a3a"/>
<rect class="g" x="94.8" y="371.7" width="4.4" height="4.4" fill="#3a3a3a"/>
<rect class="g" x="116.39999999999999" y="382.8" width="4.4" height="4.4" fill="#3a3a3a"/>
<rect class="g" x="144.8" y="402.6" width="4.4" height="4.4" fill="#3a3a3a"/>
<path class="g" d="M45.30,327.00 L71.70,348.30 L82.00,358.60 L97.00,372.60 L118.60,384.00 L147.00,404.80" fill="none" stroke="#f03c3c" stroke-width="1.2" stroke-linejoin="round" stroke-linecap="round"/>
<circle class="g" cx="45.3" cy="327.0" r="2.4200000000000004" fill="#f03c3c"/>
<circle class="g" cx="71.7" cy="348.3" r="2.4200000000000004" fill="#f03c3c"/>
<circle class="g" cx="82.0" cy="358.6" r="2.4200000000000004" fill="#f03c3c"/>
<circle class="g" cx="97.0" cy="372.6" r="2.4200000000000004" fill="#f03c3c"/>
<circle class="g" cx="118.6" cy="384.0" r="2.4200000000000004" fill="#f03c3c"/>
<circle class="g" cx="147.0" cy="404.8" r="2.4200000000000004" fill="#f03c3c"/>
<path class="g" d="M45.30,327.40 L71.70,348.60 L82.00,360.30 L97.00,370.70 L118.60,382.80 L147.00,405.40" fill="none" stroke="#1f60d8" stroke-width="1.2" stroke-linejoin="round" stroke-linecap="round"/>
<path class="g" d="M45.3,324.53999999999996 L48.16,329.59999999999997 L42.44,329.59999999999997 Z" fill="#1f60d8"/>
<path class="g" d="M71.7,345.74 L74.56,350.8 L68.84,350.8 Z" fill="#1f60d8"/>
<path class="g" d="M82.0,357.44 L84.86,362.5 L79.14,362.5 Z" fill="#1f60d8"/>
<path class="g" d="M97.0,367.84 L99.86,372.9 L94.14,372.9 Z" fill="#1f60d8"/>
<path class="g" d="M118.6,379.94 L121.46,385.0 L115.74,385.0 Z" fill="#1f60d8"/>
<path class="g" d="M147.0,402.53999999999996 L149.86,407.59999999999997 L144.14,407.59999999999997 Z" fill="#1f60d8"/>
<path class="g" d="M45.30,328.00 L71.70,349.30 L82.00,362.20 L97.00,373.90 L118.60,386.90 L147.00,407.40" fill="none" stroke="#24a050" stroke-width="1.2" stroke-linejoin="round" stroke-linecap="round"/>
<path class="g" d="M45.3,330.86 L48.16,325.8 L42.44,325.8 Z" fill="#24a050"/>
<path class="g" d="M71.7,352.16 L74.56,347.1 L68.84,347.1 Z" fill="#24a050"/>
<path class="g" d="M82.0,365.06 L84.86,360.0 L79.14,360.0 Z" fill="#24a050"/>
<path class="g" d="M97.0,376.76 L99.86,371.7 L94.14,371.7 Z" fill="#24a050"/>
<path class="g" d="M118.6,389.76 L121.46,384.7 L115.74,384.7 Z" fill="#24a050"/>
<path class="g" d="M147.0,410.26 L149.86,405.2 L144.14,405.2 Z" fill="#24a050"/>
<path class="g" d="M45.30,329.90 L71.70,351.60 L82.00,366.70 L97.00,377.20 L118.60,382.80 L147.00,403.60" fill="none" stroke="#a868e8" stroke-width="1.2" stroke-linejoin="round" stroke-linecap="round"/>
<path class="g" d="M45.3,326.82 L48.379999999999995,329.9 L45.3,332.97999999999996 L42.22,329.9 Z" fill="#a868e8"/>
<path class="g" d="M71.7,348.52000000000004 L74.78,351.6 L71.7,354.68 L68.62,351.6 Z" fill="#a868e8"/>
<path class="g" d="M82.0,363.62 L85.08,366.7 L82.0,369.78 L78.92,366.7 Z" fill="#a868e8"/>
<path class="g" d="M97.0,374.12 L100.08,377.2 L97.0,380.28 L93.92,377.2 Z" fill="#a868e8"/>
<path class="g" d="M118.6,379.72 L121.67999999999999,382.8 L118.6,385.88 L115.52,382.8 Z" fill="#a868e8"/>
<path class="g" d="M147.0,400.52000000000004 L150.08,403.6 L147.0,406.68 L143.92,403.6 Z" fill="#a868e8"/>
<line class="g" x1="116" y1="327.1" x2="128.6" y2="327.1" stroke="#3a3a3a" stroke-width="1.2"/>
<rect class="g" x="120.39999999999999" y="325.20000000000005" width="3.8" height="3.8" fill="#3a3a3a"/>
<line class="g" x1="116" y1="337.90000000000003" x2="128.6" y2="337.90000000000003" stroke="#f03c3c" stroke-width="1.2"/>
<circle class="g" cx="122.3" cy="337.90000000000003" r="2.09" fill="#f03c3c"/>
<line class="g" x1="116" y1="348.70000000000005" x2="128.6" y2="348.70000000000005" stroke="#1f60d8" stroke-width="1.2"/>
<path class="g" d="M122.3,346.23 L124.77,350.6 L119.83,350.6 Z" fill="#1f60d8"/>
<line class="g" x1="116" y1="359.5" x2="128.6" y2="359.5" stroke="#24a050" stroke-width="1.2"/>
<path class="g" d="M122.3,361.97 L124.77,357.6 L119.83,357.6 Z" fill="#24a050"/>
<line class="g" x1="116" y1="370.3" x2="128.6" y2="370.3" stroke="#a868e8" stroke-width="1.2"/>
<path class="g" d="M122.3,367.64 L124.96,370.3 L122.3,372.96000000000004 L119.64,370.3 Z" fill="#a868e8"/>
<rect class="g" x="222.5" y="320.4" width="126.0" height="100.30000000000001" fill="none" stroke="#8c8c8c" stroke-width="1"/>
<line class="g" x1="222.5" y1="395.35" x2="224.0" y2="395.35" stroke="#8c8c8c" stroke-width="1"/>
<line class="g" x1="222.5" y1="370.40000000000003" x2="224.5" y2="370.40000000000003" stroke="#8c8c8c" stroke-width="1"/>
<line class="g" x1="222.5" y1="345.45000000000005" x2="224.0" y2="345.45000000000005" stroke="#8c8c8c" stroke-width="1"/>
<line class="g" x1="246.46" y1="420.7" x2="246.46" y2="418.7" stroke="#8c8c8c" stroke-width="1"/>
<line class="g" x1="278.02" y1="420.7" x2="278.02" y2="418.7" stroke="#8c8c8c" stroke-width="1"/>
<line class="g" x1="309.58000000000004" y1="420.7" x2="309.58000000000004" y2="418.7" stroke="#8c8c8c" stroke-width="1"/>
<line class="g" x1="341.14" y1="420.7" x2="341.14" y2="418.7" stroke="#8c8c8c" stroke-width="1"/>
<path class="g" d="M233.84,365.10 L262.24,365.10 L278.02,365.10 L293.80,365.10 L309.58,365.10 L333.25,365.10" fill="none" stroke="#ee3a3a" stroke-width="1.2" stroke-linejoin="round" stroke-linecap="round"/>
<circle class="g" cx="233.836" cy="365.1" r="2.5" fill="#ee3a3a"/>
<circle class="g" cx="262.24" cy="365.1" r="2.5" fill="#ee3a3a"/>
<circle class="g" cx="278.02" cy="365.1" r="2.5" fill="#ee3a3a"/>
<circle class="g" cx="293.8" cy="365.1" r="2.5" fill="#ee3a3a"/>
<circle class="g" cx="309.58000000000004" cy="365.1" r="2.5" fill="#ee3a3a"/>
<circle class="g" cx="333.25" cy="365.1" r="2.5" fill="#ee3a3a"/>
<path class="g" d="M233.84,380.60 L262.24,380.00 L278.02,378.40 L293.80,380.60 L309.58,376.40 L333.25,381.20" fill="none" stroke="#444" stroke-width="1.2" stroke-linejoin="round" stroke-linecap="round"/>
<rect class="g" x="231.73600000000002" y="378.5" width="4.2" height="4.2" fill="#444"/>
<rect class="g" x="260.14" y="377.9" width="4.2" height="4.2" fill="#444"/>
<rect class="g" x="275.91999999999996" y="376.29999999999995" width="4.2" height="4.2" fill="#444"/>
<rect class="g" x="291.7" y="378.5" width="4.2" height="4.2" fill="#444"/>
<rect class="g" x="307.48" y="374.29999999999995" width="4.2" height="4.2" fill="#444"/>
<rect class="g" x="331.15" y="379.09999999999997" width="4.2" height="4.2" fill="#444"/>
<line class="g" x1="310.7" y1="333.3" x2="323.1" y2="333.3" stroke="#444" stroke-width="1.2"/>
<rect class="g" x="315" y="331.4" width="3.8" height="3.8" fill="#444"/>
<line class="g" x1="310.7" y1="352.6" x2="323.1" y2="352.6" stroke="#ee3a3a" stroke-width="1.2"/>
<circle class="g" cx="316.9" cy="352.6" r="2.2" fill="#ee3a3a"/>
<g style="filter:grayscale(1)">
<text id="a_lab" class="t" font-size="13.50" text-anchor="middle" fill="#111" stroke="#111" stroke-width="0.15" transform="translate(8.20,9.40)">(a)</text>
<text id="a_y3" class="t" font-size="11.40" text-anchor="middle" fill="#111" stroke="#111" stroke-width="0.15" transform="translate(28.30,32.10)">3</text>
<text id="a_y2" class="t" font-size="11.40" text-anchor="middle" fill="#111" stroke="#111" stroke-width="0.15" transform="translate(28.50,58.90)">2</text>
<text id="a_y1" class="t" font-size="11.40" text-anchor="middle" fill="#111" stroke="#111" stroke-width="0.15" transform="translate(28.50,85.90)">1</text>
<text id="a_x2" class="t" font-size="11.10" text-anchor="middle" fill="#111" stroke="#111" stroke-width="0.15" transform="translate(48.70,123.40) scale(1.120,1)">2.0</text>
<text id="a_x3" class="t" font-size="11.10" text-anchor="middle" fill="#111" stroke="#111" stroke-width="0.15" transform="translate(97.20,123.20) scale(1.120,1)">3.0</text>
<text id="a_x4" class="t" font-size="11.10" text-anchor="middle" fill="#111" stroke="#111" stroke-width="0.15" transform="translate(147.20,123.20) scale(1.120,1)">4.0</text>
<text id="a_xl" class="t" font-size="13.20" text-anchor="middle" fill="#111" stroke="#111" stroke-width="0.15" transform="translate(96.40,137.30) scale(1.027,1)"><tspan font-style="italic">V</tspan><tspan font-size="9.24" dy="2.64">t</tspan><tspan dy="-2.64">​</tspan> (V)</text>
<text id="a_yl" class="t" font-size="12.00" text-anchor="middle" fill="#111" stroke="#111" stroke-width="0.15" transform="translate(16.20,53.45) rotate(-90) scale(1.036,1)"><tspan font-style="italic">n</tspan> (10<tspan font-size="6.96" dy="-3.60">12</tspan><tspan dy="3.60">​</tspan>/cm<tspan font-size="6.96" dy="-3.60">2</tspan><tspan dy="3.60">​</tspan>)</text>
<text id="b_lab" class="t" font-size="13.50" text-anchor="middle" fill="#111" stroke="#111" stroke-width="0.15" transform="translate(197.30,10.70)">(b)</text>
<text id="b_y15" class="t" font-size="10.70" text-anchor="middle" fill="#111" stroke="#111" stroke-width="0.15" transform="translate(213.60,26.30) scale(1.150,1)">1.5</text>
<text id="b_y10" class="t" font-size="10.70" text-anchor="middle" fill="#111" stroke="#111" stroke-width="0.15" transform="translate(213.60,59.40) scale(1.150,1)">1.0</text>
<text id="b_y05" class="t" font-size="10.70" text-anchor="middle" fill="#111" stroke="#111" stroke-width="0.15" transform="translate(213.00,113.50) scale(1.150,1)">0.5</text>
<text id="b_x0" class="t" font-size="10.40" text-anchor="middle" fill="#111" stroke="#111" stroke-width="0.15" transform="translate(224.50,121.30) scale(1.170,1)">0</text>
<text id="b_x1" class="t" font-size="10.40" text-anchor="middle" fill="#111" stroke="#111" stroke-width="0.15" transform="translate(260.80,121.30) scale(1.170,1)">1.0</text>
<text id="b_x2" class="t" font-size="10.40" text-anchor="middle" fill="#111" stroke="#111" stroke-width="0.15" transform="translate(297.00,121.50) scale(1.170,1)">2.0</text>
<text id="b_x3" class="t" font-size="10.40" text-anchor="middle" fill="#111" stroke="#111" stroke-width="0.15" transform="translate(331.60,121.50) scale(1.170,1)">3.0</text>
<text id="b_xl" class="t" font-size="12.00" text-anchor="middle" fill="#111" stroke="#111" stroke-width="0.15" transform="translate(287.50,137.00) scale(1.208,1)"><tspan font-style="italic">n</tspan> (10<tspan font-size="7.92" dy="-3.60">12</tspan><tspan dy="3.60">​</tspan>/cm<tspan font-size="7.92" dy="-3.60">2</tspan><tspan dy="3.60">​</tspan>)</text>
<text id="b_yl" class="t" font-size="12.50" text-anchor="middle" fill="#111" stroke="#111" stroke-width="0.15" transform="translate(201.90,58.65) rotate(-90) scale(1.088,1)"><tspan font-style="italic">μ</tspan> (m<tspan font-size="8.25" dy="-5.00">2</tspan><tspan dy="5.00">​</tspan>/(V · s))</text>
<text id="c_lab" class="t" font-size="13.50" text-anchor="middle" fill="#111" stroke="#111" stroke-width="0" font-weight="bold" transform="translate(8.20,157.60)">(c)</text>
<text id="c_y6" class="t" font-size="11.70" text-anchor="middle" fill="#111" stroke="#111" stroke-width="0.15" transform="translate(23.00,172.80) scale(1.020,1)">0.6</text>
<text id="c_y4" class="t" font-size="11.70" text-anchor="middle" fill="#111" stroke="#111" stroke-width="0.15" transform="translate(22.50,205.80) scale(1.020,1)">0.4</text>
<text id="c_y2" class="t" font-size="11.70" text-anchor="middle" fill="#111" stroke="#111" stroke-width="0.15" transform="translate(23.50,237.80) scale(1.020,1)">0.2</text>
<text id="c_y0" class="t" font-size="11.70" text-anchor="middle" fill="#111" stroke="#111" stroke-width="0.15" transform="translate(27.00,269.00) scale(1.020,1)">0</text>
<text id="c_x0" class="t" font-size="11.80" text-anchor="middle" fill="#111" stroke="#111" stroke-width="0.15" transform="translate(33.75,278.80)">0</text>
<text id="c_x2" class="t" font-size="11.80" text-anchor="middle" fill="#111" stroke="#111" stroke-width="0.15" transform="translate(65.50,278.80)">2</text>
<text id="c_x4" class="t" font-size="11.80" text-anchor="middle" fill="#111" stroke="#111" stroke-width="0.15" transform="translate(96.75,278.20)">4</text>
<text id="c_x6" class="t" font-size="11.80" text-anchor="middle" fill="#111" stroke="#111" stroke-width="0.15" transform="translate(129.00,278.20)">6</text>
<text id="c_x8" class="t" font-size="11.80" text-anchor="middle" fill="#111" stroke="#111" stroke-width="0.15" transform="translate(161.00,278.20)">8</text>
<text id="c_xl" class="t" font-size="13.00" text-anchor="middle" fill="#111" stroke="#111" stroke-width="0.15" transform="translate(97.10,294.20) scale(1.015,1)"><tspan font-style="italic">B</tspan> (T)</text>
<text id="c_yl" class="t" font-size="11.50" text-anchor="middle" fill="#111" stroke="#111" stroke-width="0.15" transform="translate(11.70,210.70) rotate(-90) scale(1.231,1)"><tspan font-style="italic">ρ</tspan><tspan font-size="9.20" dy="2.53" font-style="italic">xx</tspan><tspan dy="-2.53">​</tspan>(<tspan font-style="italic">k</tspan>Ω/square)</text>
<text id="d_lab" class="t" font-size="13.50" text-anchor="middle" fill="#111" stroke="#111" stroke-width="0.15" transform="translate(196.50,157.30)">(d)</text>
<text id="d_y50" class="t" font-size="10.80" text-anchor="middle" fill="#111" stroke="#111" stroke-width="0.15" transform="translate(214.00,180.30) scale(1.060,1)">50</text>
<text id="d_y0" class="t" font-size="10.80" text-anchor="middle" fill="#111" stroke="#111" stroke-width="0.15" transform="translate(213.70,218.80) scale(1.060,1)">0</text>
<text id="d_ym50" class="t" font-size="10.80" text-anchor="middle" fill="#111" stroke="#111" stroke-width="0.15" transform="translate(212.70,257.40) scale(1.060,1)">-50</text>
<text id="d_x5" class="t" font-size="10.80" text-anchor="middle" fill="#111" stroke="#111" stroke-width="0.15" transform="translate(234.50,278.60) scale(1.070,1)">0.5</text>
<text id="d_x7" class="t" font-size="10.80" text-anchor="middle" fill="#111" stroke="#111" stroke-width="0.15" transform="translate(276.00,278.60) scale(1.070,1)">0.7</text>
<text id="d_x9" class="t" font-size="10.80" text-anchor="middle" fill="#111" stroke="#111" stroke-width="0.15" transform="translate(317.50,278.60) scale(1.070,1)">0.9</text>
<text id="d_xl" class="t" font-size="12.50" text-anchor="middle" fill="#111" stroke="#111" stroke-width="0.15" transform="translate(287.70,294.00) scale(0.963,1)">1/<tspan font-style="italic">B</tspan> (1/T)</text>
<text id="d_yl" class="t" font-size="12.00" text-anchor="middle" fill="#111" stroke="#111" stroke-width="0.15" transform="translate(201.00,214.70) rotate(-90) scale(1.105,1)">Δ<tspan font-style="italic">ρ</tspan><tspan font-size="9.60" dy="2.64" font-style="italic">xx</tspan><tspan dy="-2.64">​</tspan>(Ω/square)</text>
<text id="e_lab" class="t" font-size="13.50" text-anchor="middle" fill="#111" stroke="#111" stroke-width="0.15" transform="translate(8.50,314.10)">(e)</text>
<text id="e_y4" class="t" font-size="11.90" text-anchor="middle" fill="#111" stroke="#111" stroke-width="0.15" transform="translate(28.00,334.20)">4</text>
<text id="e_y3" class="t" font-size="11.90" text-anchor="middle" fill="#111" stroke="#111" stroke-width="0.15" transform="translate(28.50,367.50)">3</text>
<text id="e_y2" class="t" font-size="11.90" text-anchor="middle" fill="#111" stroke="#111" stroke-width="0.15" transform="translate(29.00,400.20)">2</text>
<text id="e_x5" class="t" font-size="10.40" text-anchor="middle" fill="#111" stroke="#111" stroke-width="0.15" transform="translate(35.30,434.00) scale(1.150,1)">0.5</text>
<text id="e_x7" class="t" font-size="10.40" text-anchor="middle" fill="#111" stroke="#111" stroke-width="0.15" transform="translate(74.00,434.00) scale(1.150,1)">0.7</text>
<text id="e_x9" class="t" font-size="10.40" text-anchor="middle" fill="#111" stroke="#111" stroke-width="0.15" transform="translate(113.30,433.70) scale(1.150,1)">0.9</text>
<text id="e_x11" class="t" font-size="10.40" text-anchor="middle" fill="#111" stroke="#111" stroke-width="0.15" transform="translate(153.00,433.70) scale(1.150,1)">1.1</text>
<text id="e_xl" class="t" font-size="12.50" text-anchor="middle" fill="#111" stroke="#111" stroke-width="0.15" transform="translate(98.50,450.00) scale(0.928,1)">1/<tspan font-style="italic">B</tspan> (1/T)</text>
<text id="e_yl" class="t" font-size="12.00" text-anchor="middle" fill="#111" stroke="#111" stroke-width="0.15" transform="translate(17.60,369.70) rotate(-90) scale(1.150,1)">ln(Δ<tspan font-style="italic">ρ</tspan><tspan font-size="9.60" dy="2.64" font-style="italic">xx</tspan><tspan dy="-2.64">​</tspan><tspan font-style="italic" dy="-3.00">sinξ/ξ</tspan><tspan dy="3.00">​</tspan>)</text>
<text id="f_lab" class="t" font-size="13.50" text-anchor="middle" fill="#111" stroke="#111" stroke-width="0.15" transform="translate(195.00,314.30)">(f)</text>
<text id="f_y2" class="t" font-size="12.40" text-anchor="middle" fill="#111" stroke="#111" stroke-width="0.15" transform="translate(216.20,324.60)">2</text>
<text id="f_y1" class="t" font-size="12.40" text-anchor="middle" fill="#111" stroke="#111" stroke-width="0.15" transform="translate(216.70,373.60)">1</text>
<text id="f_y0" class="t" font-size="12.40" text-anchor="middle" fill="#111" stroke="#111" stroke-width="0.15" transform="translate(217.20,422.60)">0</text>
<text id="f_x0" class="t" font-size="11.00" text-anchor="middle" fill="#111" stroke="#111" stroke-width="0.15" transform="translate(225.50,432.80) scale(1.070,1)">0</text>
<text id="f_x4" class="t" font-size="11.00" text-anchor="middle" fill="#111" stroke="#111" stroke-width="0.15" transform="translate(247.50,432.80) scale(1.070,1)">0.4</text>
<text id="f_x8" class="t" font-size="11.00" text-anchor="middle" fill="#111" stroke="#111" stroke-width="0.15" transform="translate(278.50,432.80) scale(1.070,1)">0.8</text>
<text id="f_x12" class="t" font-size="11.00" text-anchor="middle" fill="#111" stroke="#111" stroke-width="0.15" transform="translate(309.70,432.90) scale(1.070,1)">1.2</text>
<text id="f_x16" class="t" font-size="11.00" text-anchor="middle" fill="#111" stroke="#111" stroke-width="0.15" transform="translate(341.20,432.90) scale(1.070,1)">1.6</text>
<text id="f_xl" class="t" font-size="12.50" text-anchor="middle" fill="#111" stroke="#111" stroke-width="0.15" transform="translate(280.60,449.90) scale(0.941,1)"><tspan font-style="italic">T</tspan> (K)</text>
<text id="f_yl" class="t" font-size="12.00" text-anchor="middle" fill="#111" stroke="#111" stroke-width="0.15" transform="translate(206.50,370.30) rotate(-90) scale(1.162,1)"><tspan font-style="italic">τ</tspan> (ps)</text>
<text id="f_lq" class="t" font-size="12.50" text-anchor="middle" fill="#111" stroke="#111" stroke-width="0.35" transform="translate(332.60,334.60)"><tspan font-style="italic">τ</tspan><tspan font-size="8.75" dy="2.50" font-style="italic">q</tspan><tspan dy="-2.50">​</tspan></text>
<text id="f_lt" class="t" font-size="12.50" text-anchor="middle" fill="#111" stroke="#111" stroke-width="0.35" transform="translate(332.10,355.10)"><tspan font-style="italic">τ</tspan><tspan font-size="8.75" dy="2.50" font-style="italic">t</tspan><tspan dy="-2.50">​</tspan></text>
</g>
<text id="c_r6" class="t" font-size="11.80" text-anchor="middle" fill="#5a5aff" stroke="#5a5aff" stroke-width="0.15" transform="translate(167.30,185.80)">6</text>
<text id="c_r4" class="t" font-size="11.80" text-anchor="middle" fill="#5a5aff" stroke="#5a5aff" stroke-width="0.15" transform="translate(167.80,213.80)">4</text>
<text id="c_r2" class="t" font-size="11.80" text-anchor="middle" fill="#5a5aff" stroke="#5a5aff" stroke-width="0.15" transform="translate(167.30,241.70)">2</text>
<text id="c_r0" class="t" font-size="11.80" text-anchor="middle" fill="#5a5aff" stroke="#5a5aff" stroke-width="0.15" transform="translate(167.80,267.20)">0</text>
<text id="c_yr" class="t" font-size="11.50" text-anchor="middle" fill="#6262ff" stroke="#6262ff" stroke-width="0" transform="translate(183.50,215.00) rotate(-90) scale(1.252,1)"><tspan font-style="italic">ρ</tspan><tspan font-size="9.20" dy="2.53" font-style="italic">xy</tspan><tspan dy="-2.53">​</tspan>(<tspan font-style="italic">k</tspan>Ω/square)</text>
<g style="filter:grayscale(1)"><text class="g" x="315.3" y="168.10000000000002" font-size="7.3" text-anchor="start" fill="#111" stroke="#111" stroke-width="0.2">0.24 K</text><text class="g" x="315.3" y="174.98000000000002" font-size="7.3" text-anchor="start" fill="#111" stroke="#111" stroke-width="0.2">0.6 K</text><text class="g" x="315.3" y="181.86" font-size="7.3" text-anchor="start" fill="#111" stroke="#111" stroke-width="0.2">0.8 K</text><text class="g" x="315.3" y="188.74" font-size="7.3" text-anchor="start" fill="#111" stroke="#111" stroke-width="0.2">1.0 K</text><text class="g" x="315.3" y="195.62000000000003" font-size="7.3" text-anchor="start" fill="#111" stroke="#111" stroke-width="0.2">1.2 K</text><text class="g" x="315.3" y="202.50000000000003" font-size="7.3" text-anchor="start" fill="#111" stroke="#111" stroke-width="0.2">1.5 K</text><text class="g" x="132" y="329.5" font-size="7.5" text-anchor="start" fill="#111" stroke="#111" stroke-width="0.2">0.24 K</text><text class="g" x="132" y="340.3" font-size="7.5" text-anchor="start" fill="#111" stroke="#111" stroke-width="0.2">0.6 K</text><text class="g" x="132" y="351.1" font-size="7.5" text-anchor="start" fill="#111" stroke="#111" stroke-width="0.2">0.8 K</text><text class="g" x="132" y="361.9" font-size="7.5" text-anchor="start" fill="#111" stroke="#111" stroke-width="0.2">1.0 K</text><text class="g" x="132" y="372.7" font-size="7.5" text-anchor="start" fill="#111" stroke="#111" stroke-width="0.2">1.2 K</text></g>
</svg>
</body></html>
